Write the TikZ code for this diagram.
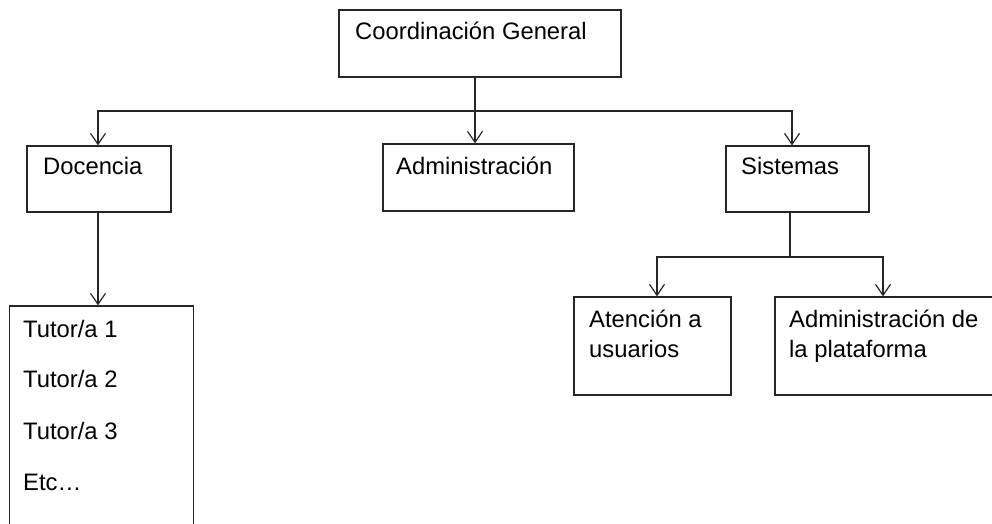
\documentclass[tikz,border=0pt]{standalone}
\usepackage{fontspec}
\setmainfont{Liberation Sans}
\usetikzlibrary{arrows.meta}
\begin{document}
\begin{tikzpicture}[x=1pt,y=-1pt,
  box/.style={draw=black!85, line width=1.3pt, rectangle, inner sep=0pt},
  lbl/.style={anchor=base west, inner sep=0pt, font=\fontsize{23.8}{28}\selectfont, text=black},
  conn/.style={draw=black!85, line width=1.3pt},
  arr/.style={conn, -{Straight Barb[length=11pt,width=15pt,line width=1.2pt]}}]
\useasboundingbox (0,0) rectangle (992,523);
\clip (0,0) rectangle (992,523);
% boxes
\node[box, minimum width=282pt, minimum height=67pt] (coord) at (480,43.5) {};
\node[box, minimum width=144pt, minimum height=66pt] (doc) at (99,179) {};
\node[box, minimum width=191pt, minimum height=67pt] (adm) at (478.5,177.5) {};
\node[box, minimum width=143pt, minimum height=66pt] (sis) at (797.5,179) {};
\node[box, minimum width=184pt, minimum height=260pt] (tut) at (101.5,436) {};
\node[box, minimum width=157pt, minimum height=98pt] (ate) at (652.5,346) {};
\node[box, minimum width=240pt, minimum height=98pt] (pla) at (895,346) {};
% texts
\node[lbl] (tcoord) at (355,39) {Coordinación General};
\node[lbl] (tdoc) at (43,174) {Docencia};
\node[lbl] (tadm) at (396,174) {Administración};
\node[lbl] (tsis) at (741,174) {Sistemas};
\node[lbl] (tt1) at (23,337) {Tutor/a 1};
\node[lbl] (tt2) at (23,387) {Tutor/a 2};
\node[lbl] (tt3) at (23,439) {Tutor/a 3};
\node[lbl] (tt4) at (23,490) {Etc…};
\node[lbl] (tate1) at (589,327) {Atención a};
\node[lbl] (tate2) at (589,357) {usuarios};
\node[lbl] (tpla1) at (789,327) {Administración de};
\node[lbl] (tpla2) at (789,357) {la plataforma};
% connectors
\coordinate (j1) at (475,111);
\coordinate (j2) at (790,257);
\draw[conn] ([xshift=-5pt]coord.south) -- (j1);
\draw[arr] (j1) -| ([xshift=-1pt]doc.north);
\draw[arr] (j1) -| ([xshift=-5.5pt]sis.north);
\draw[arr] (j1) -- ([xshift=-3.5pt]adm.north);
\draw[arr] ([xshift=-1pt]doc.south) -- ([xshift=-3.5pt]tut.north);
\draw[conn] ([xshift=-7.5pt]sis.south) -- (j2);
\draw[arr] (j2) -| ([xshift=4.5pt]ate.north);
\draw[arr] (j2) -| ([xshift=-12pt]pla.north);
\end{tikzpicture}
\end{document}
